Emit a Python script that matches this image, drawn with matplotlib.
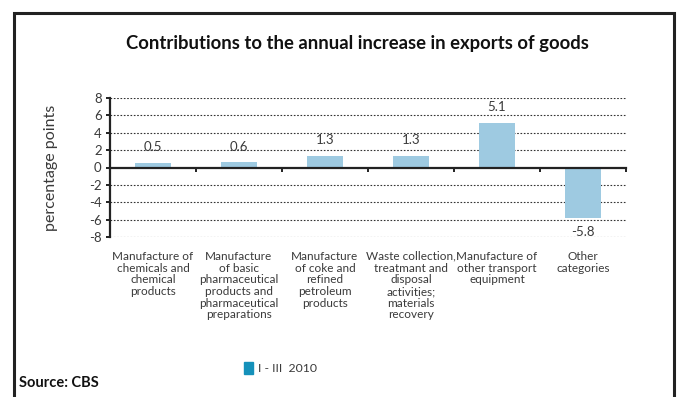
import matplotlib
matplotlib.use("Agg")
import matplotlib.pyplot as plt
import matplotlib.patches as patches
from matplotlib.transforms import blended_transform_factory

# Contributions by product group, percentage points
categories = [
    "Manufacture of\nchemicals and\nchemical\nproducts",
    "Manufacture\nof basic\npharmaceutical\nproducts and\npharmaceutical\npreparations",
    "Manufacture\nof coke and\nrefined\npetroleum\nproducts",
    "Waste collection,\ntreatmant and\ndisposal\nactivities;\nmaterials\nrecovery",
    "Manufacture of\nother transport\nequipment",
    "Other\ncategories",
]
values = [0.5, 0.6, 1.3, 1.3, 5.1, -5.8]
value_labels = ["0.5", "0.6", "1.3", "1.3", "5.1", "-5.8"]
yticks = [-8, -6, -4, -2, 0, 2, 4, 6, 8]
series_name = "I - III  2010"

BAR = "#9ecae1"
LEGEND_BLUE = "#1591ba"
TXT = "#3a3a3a"

plt.rcParams["font.family"] = ["Lato", "DejaVu Sans"]

W, H = 678, 397
fig = plt.figure(figsize=(W / 100, H / 100), dpi=100)

# outer frame
frame = patches.Rectangle((14 / W, -0.1), 660 / W, 1.1 - 13 / H,
                          transform=fig.transFigure, fill=False,
                          edgecolor="#222222", linewidth=2.2)
fig.patches.append(frame)

fig.text(357 / W, 1 - 43 / H, "Contributions to the annual increase in exports of goods",
         ha="center", va="center", fontsize=13.3, fontweight="bold", color="#111111")

ax = fig.add_axes([110 / W, 1 - 237 / H, 516 / W, 139 / H])
x = [i + 0.5 for i in range(len(values))]
ax.bar(x, values, width=0.43, color=BAR, zorder=2)

ax.set_xlim(0, len(values))
ax.set_ylim(-8, 8)
ax.set_yticks(yticks)
ax.set_yticklabels([str(t) for t in yticks], fontsize=9.5, color=TXT)
for t in yticks:
    if t != 0:
        ax.axhline(t, color="#333333", linestyle=(0, (1.5, 1.5)), linewidth=0.8, zorder=1)

ax.spines["top"].set_visible(False)
ax.spines["right"].set_visible(False)
ax.spines["left"].set_linewidth(1.6)
ax.spines["left"].set_color("#222222")
ax.spines["bottom"].set_position(("data", 0))
ax.spines["bottom"].set_linewidth(1.6)
ax.spines["bottom"].set_color("#222222")
ax.spines["bottom"].set_zorder(3)
ax.set_xticks(range(len(values) + 1))
ax.set_xticklabels([])
ax.tick_params(axis="x", direction="out", length=3, width=1.4, color="#222222")
ax.tick_params(axis="y", direction="out", length=3, width=1.4, color="#222222", pad=3)

for xi, v, lab in zip(x, values, value_labels):
    off = 7 if v >= 0 else -6
    ax.annotate(lab, (xi, v), xytext=(0, off), textcoords="offset points",
                ha="center", va="bottom" if v >= 0 else "top",
                fontsize=9.5, color=TXT)

trans = blended_transform_factory(ax.transData, ax.transAxes)
for xi, cat in zip(x, categories):
    ax.text(xi, -0.1, cat, transform=trans, ha="center", va="top",
            fontsize=8.5, color=TXT, linespacing=1.08)

ax.set_ylabel("percentage points", fontsize=11.5, color=TXT, labelpad=22)

# legend
fig.patches.append(patches.Rectangle((244 / W, 1 - 374 / H), 9 / W, 12 / H,
                                     transform=fig.transFigure, color=LEGEND_BLUE))
fig.text(258 / W, 1 - 369 / H, series_name, ha="left", va="center", fontsize=8.8, color=TXT)

fig.text(19 / W, 1 - 383 / H, "Source: CBS", ha="left", va="center", fontsize=10.5,
         fontweight="bold", color="#111111")

fig.savefig("out.png", dpi=100)
